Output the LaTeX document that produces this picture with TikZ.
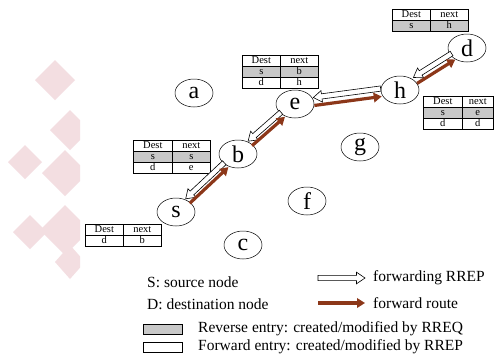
\documentclass[tikz,border=0pt]{standalone}
\usepackage{fontspec}
\setmainfont{Liberation Serif}
\usetikzlibrary{shapes.geometric,arrows.meta,calc}
\definecolor{route}{RGB}{140,55,25}
\definecolor{rev}{RGB}{200,200,200}
\definecolor{pinkbg}{RGB}{243,222,225}
\tikzset{
  host/.style={ellipse, draw, line width=0.5pt, fill=white, minimum width=38pt, minimum height=28pt, inner sep=0pt, font=\fontsize{24}{24}\selectfont},
  cell/.style={draw, line width=0.6pt, minimum height=11pt, inner sep=0pt, anchor=north west, text height=7.3pt, text depth=2pt, font=\fontsize{10.5}{10.5}\selectfont},
  rrep/.style={draw=black, fill=white, line width=0.6pt, line join=miter},
  fwdroute/.style={draw=route, line width=3.2pt, -{Triangle[length=8pt,width=9.5pt]}},
  legend/.style={anchor=west, inner sep=0pt, font=\fontsize{15.5}{15.5}\selectfont},
  keybox/.style={draw, line width=0.6pt, minimum width=39pt, minimum height=10pt, inner sep=0pt, anchor=north west},
  deco/.style={fill=pinkbg}
}
% routing table: name, x, y (top-left), col1 width, col2 width, rows d/n/fill
\newcommand\rtable[6]{%
  \foreach \dd/\nn/\ff [count=\i] in {#6} {
    \node[cell, minimum width=#4pt, fill=\ff] (#1-\i-a) at (#2,{#3+(\i-1)*11}) {\dd};
    \node[cell, minimum width=#5pt, fill=\ff] (#1-\i-b) at ({#2+#4},{#3+(\i-1)*11}) {\nn};
  }%
}
% hollow arrow from coordinate #1 to coordinate #2
\newcommand\hollowarrow[2]{%
  \draw[rrep] let \p1=(#1), \p2=(#2), \n1={veclen(\x2-\x1,\y2-\y1)}, \n2={atan2(\y2-\y1,\x2-\x1)} in
    [shift={(\p1)}, rotate=\n2]
    (0pt,-2.6pt) -- ({\n1-8.5pt},-2.6pt) -- ({\n1-8.5pt},-5.8pt) -- ({\n1},0pt)
    -- ({\n1-8.5pt},5.8pt) -- ({\n1-8.5pt},2.6pt) -- (0pt,2.6pt) -- cycle;
}
% pair of arrows between hosts A and B: rA, rB, offset
\newcommand\hoppair[5]{%
  \coordinate (#1#2-ha) at ($(#1)!#3!(#2)!#5!90:(#2)$);
  \coordinate (#1#2-hb) at ($(#2)!#4!(#1)!#5!-90:(#1)$);
  \coordinate (#1#2-fa) at ($(#1)!#3!(#2)!#5!-90:(#2)$);
  \coordinate (#1#2-fb) at ($(#2)!#4!(#1)!#5!90:(#1)$);
  \hollowarrow{#1#2-hb}{#1#2-ha}
  \draw[fwdroute] (#1#2-fa) -- (#1#2-fb);
}
\begin{document}
\begin{tikzpicture}[x=1pt,y=-1pt]
\useasboundingbox (0,0) rectangle (494,356);
\clip (0,0) rectangle (494,356);
\fill[white] (0,0) rectangle (494,356);
% decorative background
\begin{scope}
  \clip (0,0) rectangle (80,356);
  \fill[deco] (55,60) -- (75,80) -- (55,100) -- (35,80) -- cycle;
  \fill[deco] (70,110) -- (90,130) -- (70,150) -- (50,130) -- cycle;
  \fill[deco] (25,145) -- (42,162) -- (25,179) -- (8,162) -- cycle;
  \fill[deco] (65,150) -- (88,173) -- (65,196) -- (42,173) -- cycle;
  \fill[deco] (30,215) -- (47,232) -- (30,249) -- (13,232) -- cycle;
  \fill[deco] (65,205) -- (90,230) -- (65,255) -- (40,230) -- cycle;
  \fill[deco] (70,245) -- (85,262) -- (70,279) -- (55,262) -- cycle;
\end{scope}
% hosts
\node[host] (a) at (194,93) {a};
\node[host] (b) at (238,154) {b};
\node[host] (e) at (295,104) {e};
\node[host] (h) at (400,90) {h};
\node[host] (d) at (467,48) {d};
\node[host] (g) at (360,147) {g};
\node[host] (s) at (176,212) {s};
\node[host] (c) at (243,245) {c};
\node[host] (f) at (307,201) {f};
% routing tables
\rtable{td}{392}{9}{38}{38}{Dest/next/white, s/h/rev}
\rtable{te}{242}{55}{38}{38}{Dest/next/white, s/b/rev, d/h/white}
\rtable{tb}{133}{140}{39}{38}{Dest/next/white, s/s/rev, d/e/white}
\rtable{th}{423}{96}{39}{31}{Dest/next/white, s/e/rev, d/d/white}
\rtable{ts}{85}{224}{38}{38}{Dest/next/white, d/b/white}
% arrows
\hoppair{s}{b}{16pt}{16pt}{3pt}
\hoppair{b}{e}{16pt}{16pt}{3pt}
\hoppair{e}{h}{19pt}{19pt}{4pt}
\hoppair{h}{d}{18pt}{16pt}{3.5pt}
% legend
\node[legend] (ls) at (147,282) {S: source node};
\node[legend] (ld) at (147,304) {D: destination node};
\coordinate (lh1) at (318,278);
\coordinate (lh2) at (365,278);
\hollowarrow{lh1}{lh2}
\coordinate (lf1) at (318,303);
\coordinate (lf2) at (365,303);
\draw[fwdroute] (lf1) -- (lf2);
\node[legend] (lhr) at (373,278) {forwarding RREP};
\node[legend] (lfr) at (373,303) {forward route};
\node[keybox, fill=rev] (kr) at (143,324) {};
\node[keybox, fill=white] (kf) at (143,342) {};
\node[legend] (tr) at (198,329) {Reverse entry: created/modified by RREQ};
\node[legend] (tf) at (198,347) {Forward entry: created/modified by RREP};
\end{tikzpicture}
\end{document}
